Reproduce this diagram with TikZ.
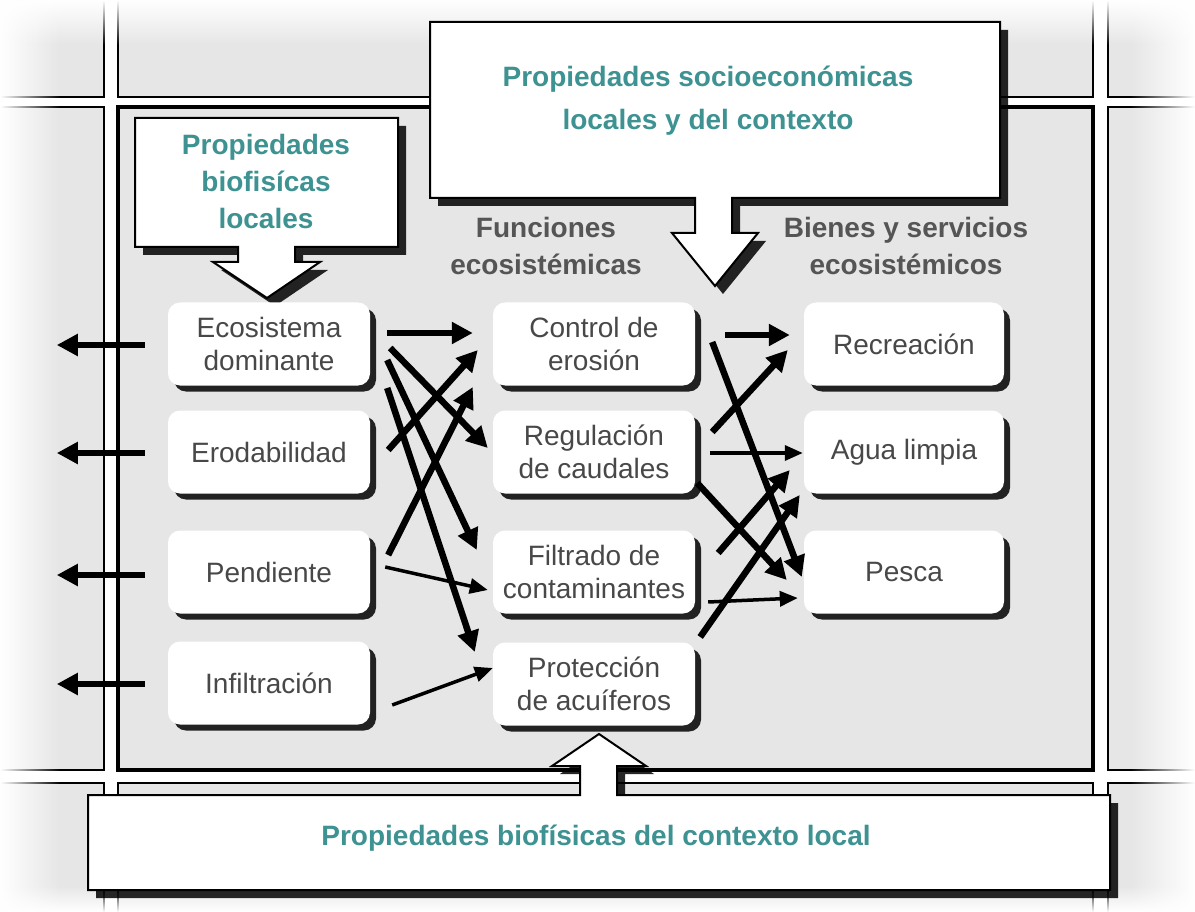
\documentclass[tikz,border=0pt]{standalone}
\usepackage{fontspec}
\setmainfont{Liberation Sans}
\usetikzlibrary{arrows.meta,shadows,fadings}
\definecolor{panelgray}{RGB}{230,230,230}
\definecolor{titleteal}{RGB}{62,146,146}
\definecolor{boxtext}{RGB}{72,72,72}
\definecolor{headgray}{RGB}{85,85,85}
\tikzset{
  panel/.style={fill=panelgray,draw=black,line width=2pt},
  callout/.style={fill=white,draw=black,line width=2pt,
    drop shadow={shadow xshift=8pt,shadow yshift=-8pt,opacity=0.85,fill=black}},
  ecobox/.style={rounded corners=12pt,fill=white,minimum width=202pt,minimum height=83pt,
    align=center,text=boxtext,font=\fontsize{28}{33}\selectfont,
    drop shadow={shadow xshift=6pt,shadow yshift=-6pt,opacity=0.85,fill=black}},
  title/.style={text=titleteal,font=\fontsize{28}{37}\selectfont\bfseries,align=center},
  header/.style={text=headgray,font=\fontsize{28}{37}\selectfont\bfseries,align=center},
  link/.style={line width=6.5pt,-{Triangle[length=21pt,width=21pt]}},
  thinlink/.style={line width=3.5pt,-{Triangle[length=18pt,width=15pt]}}
}
\begin{document}
\begin{tikzpicture}[x=1pt,y=-1pt]
\useasboundingbox (0,0) rectangle (1195,912);
\clip (0,0) rectangle (1195,912);
% Draw background panels
\fill[white] (0,0) rectangle (1195,912);
\draw[panel] (-20,-20) rectangle (104,97);
\draw[panel] (118,-20) rectangle (1093,97);
\draw[panel] (1108,-20) rectangle (1220,97);
\draw[panel] (-20,107) rectangle (104,770);
\draw[panel,line width=4pt] (118,107) rectangle (1093,770);
\draw[panel] (1108,107) rectangle (1220,770);
\draw[panel] (-20,783) rectangle (104,930);
\draw[panel] (118,783) rectangle (1093,930);
\draw[panel] (1108,783) rectangle (1220,930);
% Fade the edges
\fill[white,path fading=east] (0,0) rectangle (60,912);
\fill[white,path fading=west] (1130,0) rectangle (1195,912);
\fill[white,path fading=south] (0,0) rectangle (1195,45);
\fill[white,path fading=north] (0,885) rectangle (1195,912);
% Draw callouts
\draw[callout] (135,118) -- (398,118) -- (398,247) -- (295,247) -- (295,262) -- (320,262)
  -- (267,298) -- (213,262) -- (238,262) -- (238,247) -- (135,247) -- cycle;
\draw[callout] (430,22) -- (1000,22) -- (1000,198) -- (732,198) -- (732,233) -- (758,233)
  -- (715,286) -- (672,233) -- (695,233) -- (695,198) -- (430,198) -- cycle;
\draw[callout] (88,795) -- (580,795) -- (580,766) -- (552,766) -- (599,734) -- (646,766)
  -- (617,766) -- (617,795) -- (1110,795) -- (1110,890) -- (88,890) -- cycle;
\node[title] (loctitle) at (266,181) {Propiedades\\biofisícas\\locales};
\node[title,font=\fontsize{28}{43}\selectfont\bfseries] (soctitle) at (708,101)
  {Propiedades socioeconómicas\\locales y del contexto};
\node[title] (ctxtitle) at (596,838) {Propiedades biofísicas del contexto local};
% Column headers
\node[header] (funhead) at (546,246) {Funciones\\ecosistémicas};
\node[header] (bienhead) at (906,246) {Bienes y servicios\\ecosistémicos};
% Properties
\node[ecobox] (eco) at (269,344) {Ecosistema\\dominante};
\node[ecobox] (erod) at (269,452) {Erodabilidad};
\node[ecobox] (pend) at (269,572) {Pendiente};
\node[ecobox] (infil) at (269,683) {Infiltración};
% Functions
\node[ecobox] (ctrl) at (594,344) {Control de\\erosión};
\node[ecobox] (reg) at (594,452) {Regulación\\de caudales};
\node[ecobox] (filt) at (594,572) {Filtrado de\\contaminantes};
\node[ecobox] (prot) at (594,684) {Protección\\de acuíferos};
% Goods and services
\node[ecobox,minimum width=200pt] (rec) at (904,344) {Recreación};
\node[ecobox,minimum width=200pt] (agua) at (904,452) {Agua limpia};
\node[ecobox,minimum width=200pt] (pesca) at (904,572) {Pesca};
% Arrows out of the panel
\draw[link] ([shift={(-23,1)}]eco.west) -- +(-88,0);
\draw[link] ([shift={(-23,1)}]erod.west) -- +(-88,0);
\draw[link] ([shift={(-23,3)}]pend.west) -- +(-88,0);
\draw[link] ([shift={(-23,1)}]infil.west) -- +(-88,0);
% Properties to functions
\draw[link] ([shift={(17,-11)}]eco.east) -- ([shift={(-20,-11)}]ctrl.west);
\draw[link] ([shift={(20,4)}]eco.east) -- ([shift={(-5,-4)}]reg.west);
\draw[link] ([shift={(17,16)}]eco.east) -- ([shift={(-16,-22)}]filt.west);
\draw[link] ([shift={(17,44)}]eco.east) -- ([shift={(-18,-32)}]prot.west);
\draw[link] ([shift={(18,-2)}]erod.east) -- ([shift={(-15,6)}]ctrl.west);
\draw[link] ([shift={(18,-17)}]pend.east) -- ([shift={(-20,43)}]ctrl.west);
\draw[thinlink] ([shift={(15,-5)}]pend.east) -- ([shift={(-5,18)}]filt.west);
\draw[thinlink] ([shift={(22,22)}]infil.east) -- ([shift={(0,-16)}]prot.west);
% Functions to goods and services
\draw[link] ([shift={(30,-9)}]ctrl.east) -- ([shift={(-14,-9)}]rec.west);
\draw[link] ([shift={(17,-2)}]ctrl.east) -- ([shift={(-2,5)}]pesca.west);
\draw[link] ([shift={(17,-20)}]reg.east) -- ([shift={(-16,6)}]rec.west);
\draw[thinlink] ([shift={(15,1)}]reg.east) -- ([shift={(-1,1)}]agua.west);
\draw[link] ([shift={(2,31)}]reg.east) -- ([shift={(-17,8)}]pesca.west);
\draw[link] ([shift={(23,-19)}]filt.east) -- ([shift={(-14,18)}]agua.west);
\draw[thinlink] ([shift={(13,30)}]filt.east) -- ([shift={(-6,26)}]pesca.west);
\draw[link] ([shift={(5,-47)}]prot.east) -- ([shift={(-4,43)}]agua.west);
\end{tikzpicture}
\end{document}
